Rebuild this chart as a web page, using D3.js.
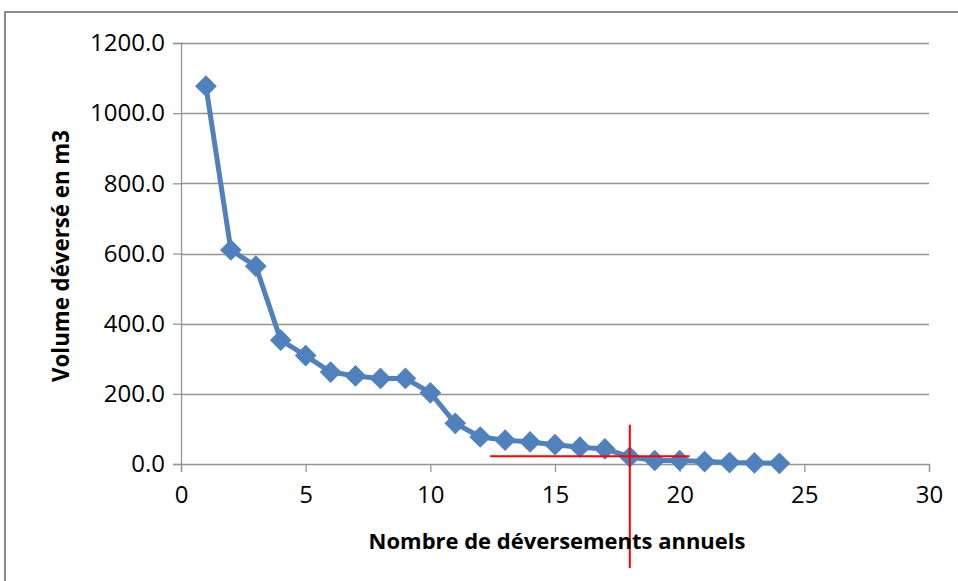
<!DOCTYPE html>
<html>
<head>
<meta charset="utf-8">
<script src="https://cdn.jsdelivr.net/npm/d3@7"></script>
<style>
  html, body { margin: 0; padding: 0; background: #ffffff; }
  svg { display: block; }
  text { font-family: "Open Sans", "Liberation Sans", sans-serif; fill: #000; }
</style>
</head>
<body>
<svg id="chart" width="958" height="581"></svg>
<script>
// Annual overflow events, ranked by spilled volume (m3)
const events = [1, 2, 3, 4, 5, 6, 7, 8, 9, 10, 11, 12, 13, 14, 15, 16, 17, 18, 19, 20, 21, 22, 23, 24];
const volumes = [1077, 610, 564, 353, 309, 262, 251, 244, 244, 203, 116, 77, 68, 63, 55, 48, 43, 20, 10, 10, 7, 4, 3, 2];

// Axis ticks
const xTicks = [0, 5, 10, 15, 20, 25, 30];
const yTicks = [0, 200, 400, 600, 800, 1000, 1200];

// Red crosshair marking the design point (18 events per year)
const markH = { x1: 12.4, x2: 20.4, y: 22 };
const markV = { x: 18, y1: 112, y2: -297 };

const svg = d3.select("#chart");
const W = 958, H = 581;

// Outer chart frame (continues past the right and bottom edges)
svg.append("rect")
  .attr("x", 5).attr("y", 12)
  .attr("width", W + 20).attr("height", H + 20)
  .attr("fill", "#fff")
  .attr("stroke", "#8c8c8c").attr("stroke-width", 2);

const x = d3.scaleLinear().domain([0, 30]).range([181, 929]);
const y = d3.scaleLinear().domain([0, 1200]).range([464, 43]);

// Horizontal gridlines
svg.append("g")
  .selectAll("line")
  .data(yTicks.filter(d => d > 0))
  .join("line")
  .attr("x1", x(0)).attr("x2", x(30))
  .attr("y1", d => Math.round(y(d)) + 0.5).attr("y2", d => Math.round(y(d)) + 0.5)
  .attr("stroke", "#959595").attr("stroke-width", 1.3);

// Y axis
const yAxis = d3.axisLeft(y).tickValues(yTicks).tickSize(8).tickPadding(8)
  .tickFormat(d => d3.format(".1f")(d));
const gy = svg.append("g").attr("transform", `translate(${x(0)},0)`).call(yAxis);
gy.select(".domain").attr("stroke", "#959595").attr("stroke-width", 1.3);
gy.selectAll(".tick line").attr("stroke", "#959595").attr("stroke-width", 1.3);
gy.selectAll(".tick text").attr("font-size", 24).attr("fill", "#000")
  .style("font-family", "'Open Sans', sans-serif");

// X axis
const xAxis = d3.axisBottom(x).tickValues(xTicks).tickSize(8).tickPadding(14)
  .tickFormat(d3.format("d"));
const gx = svg.append("g").attr("transform", `translate(0,${y(0)})`).call(xAxis);
gx.select(".domain").attr("stroke", "#959595").attr("stroke-width", 1.3);
gx.selectAll(".tick line").attr("stroke", "#959595").attr("stroke-width", 1.3);
gx.selectAll(".tick text").attr("font-size", 24).attr("fill", "#000")
  .style("font-family", "'Open Sans', sans-serif");

// Data series
const pts = events.map((e, i) => ({ e, v: volumes[i] }));
const blue = "#4f81bd";

svg.append("path")
  .datum(pts)
  .attr("fill", "none")
  .attr("stroke", blue)
  .attr("stroke-width", 5)
  .attr("stroke-linejoin", "round")
  .attr("d", d3.line().x(d => x(d.e)).y(d => y(d.v)));

const diamond = d3.symbol().type(d3.symbolDiamond2).size(300);
svg.append("g")
  .selectAll("path")
  .data(pts)
  .join("path")
  .attr("transform", d => `translate(${x(d.e)},${y(d.v)})`)
  .attr("d", diamond)
  .attr("fill", blue);

// Crosshair
svg.append("line")
  .attr("x1", x(markH.x1)).attr("x2", x(markH.x2))
  .attr("y1", y(markH.y)).attr("y2", y(markH.y))
  .attr("stroke", "#ff0000").attr("stroke-width", 2);
svg.append("line")
  .attr("x1", x(markV.x)).attr("x2", x(markV.x))
  .attr("y1", y(markV.y1)).attr("y2", y(markV.y2))
  .attr("stroke", "#ff0000").attr("stroke-width", 2);

// Axis titles
function fitText(sel, target) {
  const len = sel.node().getComputedTextLength();
  const fs = parseFloat(sel.attr("font-size"));
  sel.attr("font-size", fs * target / len);
}

const xt = svg.append("text")
  .attr("x", 557).attr("y", 549)
  .attr("text-anchor", "middle")
  .attr("font-weight", "bold").attr("font-size", 20)
  .text("Nombre de déversements annuels");
fitText(xt, 377);

const yt = svg.append("text")
  .attr("transform", "translate(69,256) rotate(-90)")
  .attr("text-anchor", "middle")
  .attr("font-weight", "bold").attr("font-size", 20)
  .text("Volume déversé en m3");
fitText(yt, 252);
</script>
</body>
</html>
